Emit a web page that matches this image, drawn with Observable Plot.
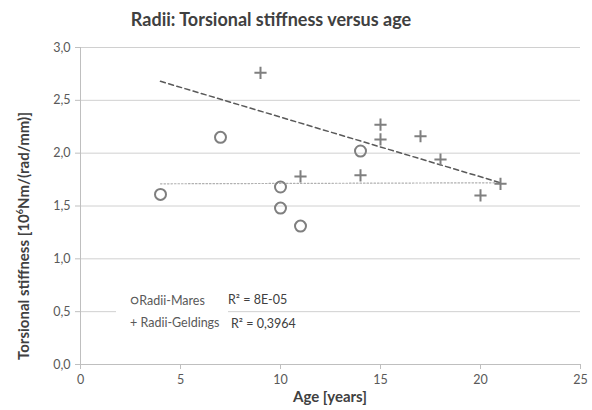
<!DOCTYPE html>
<html><head><meta charset="utf-8">
<script src="https://cdn.jsdelivr.net/npm/d3@7"></script>
<script src="https://cdn.jsdelivr.net/npm/@observablehq/plot@0.6"></script>
<style>
body{margin:0;background:#fff;font-family:Lato,"Open Sans",sans-serif;}
#wrap{position:relative;width:592px;height:410px;}
.t{position:absolute;white-space:nowrap;color:#595959;line-height:1;}
</style></head><body>
<div id="wrap"></div>
<script>
const maresAge = [4, 7, 10, 10, 11, 14];
const maresStiff = [1.61, 2.15, 1.68, 1.48, 1.31, 2.02];
const geldAge = [9, 11, 14, 15, 15, 17, 18, 20, 21];
const geldStiff = [2.76, 1.78, 1.79, 2.27, 2.13, 2.16, 1.94, 1.60, 1.71];
const trendAge = [4, 21];
const maresTrend = [1.71, 1.72];
const geldTrend = [2.68, 1.72];
const xTicks = [0, 5, 10, 15, 20, 25];
const yTicks = [0, 0.5, 1.0, 1.5, 2.0, 2.5, 3.0];

const mares = maresAge.map((a, i) => ({age: a, s: maresStiff[i]}));
const geld = geldAge.map((a, i) => ({age: a, s: geldStiff[i]}));
const mt = trendAge.map((a, i) => ({age: a, s: maresTrend[i]}));
const gt = trendAge.map((a, i) => ({age: a, s: geldTrend[i]}));

const fmt = d => d.toFixed(1).replace(".", ",");
const chart = Plot.plot({
  width: 592, height: 410,
  marginTop: 47, marginBottom: 46, marginLeft: 80, marginRight: 12,
  style: {fontFamily: "Lato, 'Open Sans', sans-serif", fontSize: "12.5px", color: "#595959", background: "#fff"},
  x: {domain: [0, 25], ticks: xTicks, label: null},
  y: {domain: [0, 3], ticks: yTicks, label: null},
  marks: [
    Plot.gridY(yTicks.slice(1), {stroke: "#d0d0d0", strokeOpacity: 1}),
    Plot.ruleY([0], {stroke: "#bfbfbf"}),
    Plot.ruleX([0], {stroke: "#bfbfbf"}),
    Plot.axisX({ticks: xTicks, tickSize: 5, tickPadding: 6, stroke: "#bfbfbf", tickFormat: d => d, fill: "#595959"}),
    Plot.axisY({ticks: yTicks, tickSize: 5, tickPadding: 5, stroke: "#bfbfbf", tickFormat: fmt, fill: "#595959"}),
    Plot.line(mt, {x: "age", y: "s", stroke: "#b0b0b0", strokeWidth: 1.2, strokeDasharray: "1.5,2"}),
    Plot.line(gt, {x: "age", y: "s", stroke: "#595959", strokeWidth: 1.5, strokeDasharray: "5,3.5"}),
    Plot.dot(mares, {x: "age", y: "s", r: 5.5, stroke: "#7f7f7f", strokeWidth: 2, fill: "none"}),
    Plot.dot(geld, {x: "age", y: "s", symbol: "plus", r: 4, stroke: "#7f7f7f", strokeWidth: 2, fill: "none"})
  ]
});
const wrap = document.getElementById("wrap");
wrap.appendChild(chart);
function add(html, css) {
  const d = document.createElement("div");
  d.className = "t"; d.innerHTML = html; d.style.cssText += css; wrap.appendChild(d);
}
add("Radii: Torsional stiffness versus age", "left:0;width:542px;text-align:center;top:10px;font-size:18px;font-weight:bold;color:#404040;");
add("Age [years]", "left:80px;width:500px;text-align:center;top:389px;font-size:15px;font-weight:bold;color:#404040;");
add("Torsional stiffness [10<sup style='font-size:9px'>6</sup>Nm/(rad/mm)]", "left:23px;top:236px;font-size:15px;font-weight:bold;color:#404040;transform:translate(-50%,-50%) rotate(-90deg);");
add("", "left:116px;top:292px;width:112px;height:42px;background:#fff;");
add("<span style='font-size:14px'>○</span>Radii-Mares", "left:130px;top:293px;font-size:12.5px;");
add("+ Radii-Geldings", "left:130px;top:317px;font-size:12.5px;");
add("R² = 8E-05", "left:228px;top:294px;font-size:12.5px;color:#404040;");
add("R² = 0,3964", "left:231px;top:318px;font-size:12.5px;color:#404040;");
</script>
</body></html>
